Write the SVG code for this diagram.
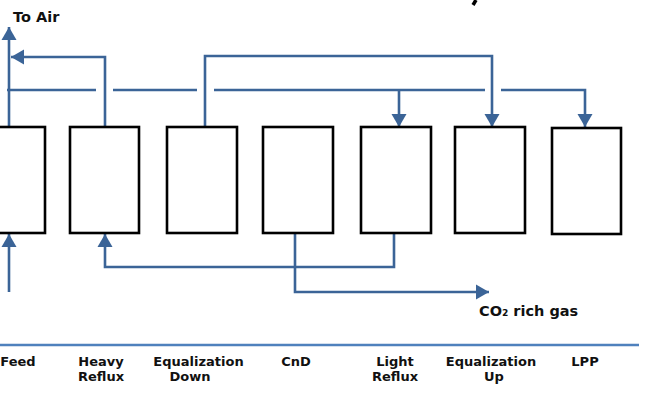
<svg xmlns="http://www.w3.org/2000/svg" width="661" height="409" viewBox="0 0 661 409">
  <style>
    .box { fill: #ffffff; stroke: #000000; stroke-width: 2.6; }
    .flow { fill: none; stroke: #3B6497; stroke-width: 2.6; }
    .lbl { font-family: "DejaVu Sans", Verdana, sans-serif; font-weight: bold; font-size: 13px; fill: #111111; text-anchor: middle; }
    .note { font-family: "DejaVu Sans", Verdana, sans-serif; font-weight: bold; font-size: 14.5px; fill: #111111; }
  </style>
  <defs>
    <marker id="arr" markerUnits="userSpaceOnUse" markerWidth="15" markerHeight="16" refX="13" refY="7.5" orient="auto" overflow="visible">
      <path d="M0,0 L13,7.5 L0,15 z" fill="#3B6497"/>
    </marker>
  </defs>
  <rect width="661" height="409" fill="#ffffff"/>

  <!-- cut-off title fragment -->
  <line x1="476" y1="0" x2="473" y2="5" stroke="#000" stroke-width="3.5"/>

  <g id="connectors">
    <!-- To Air -->
    <path class="flow" d="M9,127 V27" marker-end="url(#arr)"/>
    <!-- Heavy reflux top -->
    <path class="flow" d="M105,127 V57 H11" marker-end="url(#arr)"/>
    <!-- horizontal header with gaps -->
    <path class="flow" d="M7,90 H96 M113,90 H197 M214,90 H485 M501,90 H585 V127" marker-end="url(#arr)"/>
    <path class="flow" d="M399,90 V127" marker-end="url(#arr)"/>
    <!-- Equalization down to up -->
    <path class="flow" d="M205,127 V56 H492 V127" marker-end="url(#arr)"/>
    <!-- Feed -->
    <path class="flow" d="M9,292 V234" marker-end="url(#arr)"/>
    <!-- Light reflux to heavy reflux -->
    <path class="flow" d="M394,233 V267 H105 V234" marker-end="url(#arr)"/>
    <!-- CnD to CO2 rich gas -->
    <path class="flow" d="M295,233 V292 H489" marker-end="url(#arr)"/>
    <!-- separator -->
    <line x1="0" y1="345" x2="639" y2="345" stroke="#4F81BD" stroke-width="2.5"/>
  </g>

  <g id="feed"><rect class="box" x="-30" y="127" width="75" height="106"/><text class="lbl" x="18" y="366">Feed</text></g>
  <g id="heavy-reflux"><rect class="box" x="70" y="127" width="69" height="106"/><text class="lbl" x="101" y="366">Heavy</text><text class="lbl" x="101" y="381">Reflux</text></g>
  <g id="equalization-down"><rect class="box" x="167" y="127" width="70" height="106"/><text class="lbl" x="198.5" y="366">Equalization</text><text class="lbl" x="190" y="381">Down</text></g>
  <g id="cnd"><rect class="box" x="263" y="127" width="70" height="106"/><text class="lbl" x="296" y="366">CnD</text></g>
  <g id="light-reflux"><rect class="box" x="361" y="127" width="70" height="106"/><text class="lbl" x="395" y="366">Light</text><text class="lbl" x="395" y="381">Reflux</text></g>
  <g id="equalization-up"><rect class="box" x="455" y="127" width="70" height="106"/><text class="lbl" x="491" y="366">Equalization</text><text class="lbl" x="494" y="381">Up</text></g>
  <g id="lpp"><rect class="box" x="552" y="128" width="69" height="106"/><text class="lbl" x="585" y="366">LPP</text></g>

  <g id="to-air"><text class="note" x="13" y="22">To Air</text></g>
  <g id="co2"><text class="note" x="479" y="316">CO₂ rich gas</text></g>
</svg>
